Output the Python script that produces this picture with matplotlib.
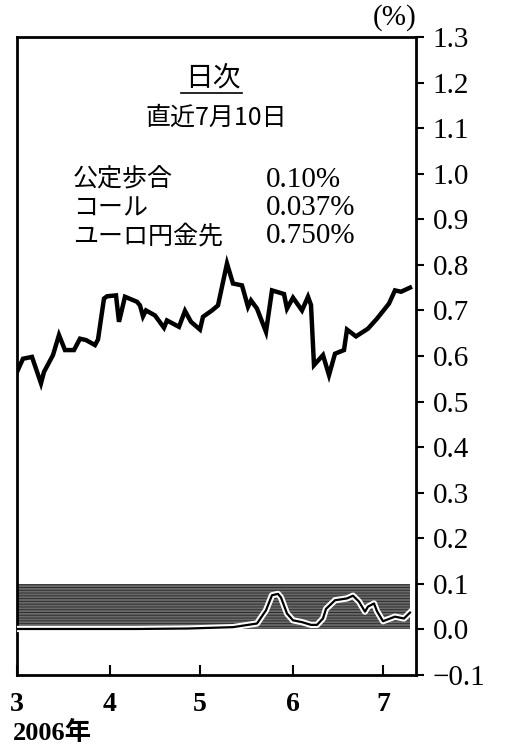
import matplotlib
matplotlib.use("Agg")
import matplotlib.pyplot as plt
import matplotlib.patheffects as pe

# days since 1 March 2006
euroyen_days = [0, 2, 5, 8, 9, 12, 14, 16, 19, 21, 23, 26, 27, 29, 30, 33, 34, 36,
                40, 41, 42, 43, 46, 49, 50, 54, 56, 58, 61, 62, 65, 67, 70, 72, 75,
                77, 78, 80, 83, 85, 89, 90, 92, 95, 97, 98, 99, 102, 104, 106, 109,
                110, 113, 117, 120, 124, 126, 128, 131]
euroyen_vals = [0.565, 0.594, 0.598, 0.540, 0.565, 0.602, 0.646, 0.613, 0.613, 0.638,
                0.635, 0.624, 0.636, 0.726, 0.731, 0.733, 0.675, 0.730, 0.719, 0.711,
                0.687, 0.700, 0.689, 0.662, 0.678, 0.664, 0.699, 0.675, 0.658, 0.686,
                0.700, 0.711, 0.803, 0.759, 0.755, 0.708, 0.722, 0.704, 0.653, 0.744,
                0.736, 0.704, 0.728, 0.700, 0.730, 0.712, 0.580, 0.602, 0.558, 0.605,
                0.613, 0.658, 0.643, 0.660, 0.682, 0.715, 0.744, 0.741, 0.750]

call_days = [0, 20, 40, 57, 72, 80, 83, 85, 87, 88, 90, 92, 95, 98, 100, 102, 103,
             106, 108, 110, 112, 114, 116, 117, 119, 120, 122, 126, 129, 131]
call_vals = [0.001, 0.001, 0.001, 0.002, 0.005, 0.013, 0.042, 0.075, 0.078, 0.070,
             0.035, 0.020, 0.016, 0.010, 0.010, 0.024, 0.045, 0.064, 0.066, 0.068,
             0.074, 0.061, 0.039, 0.050, 0.057, 0.040, 0.018, 0.028, 0.024, 0.037]

band_days = [0, 131]          # policy rate band
band_low, band_high = 0.0, 0.10

month_ticks = [0, 31, 61, 92, 122]
month_labels = ["3", "4", "5", "6", "7"]
y_ticks = [-0.1, 0.0, 0.1, 0.2, 0.3, 0.4, 0.5, 0.6, 0.7, 0.8, 0.9, 1.0, 1.1, 1.2, 1.3]

SERIF = ["Liberation Serif", "Noto Sans CJK JP"]
CJK = ["Noto Sans CJK JP", "Liberation Serif"]

plt.rcParams["hatch.linewidth"] = 0.7

fig = plt.figure(figsize=(5.07, 7.49), dpi=100)
ax = fig.add_axes([0.0335, 0.0988, 0.787, 0.8518])

ax.fill_between(band_days, band_low, band_high, facecolor="#6a6a6a",
                edgecolor="#2e2e2e", hatch="------", linewidth=0, zorder=1)
ax.plot(call_days, call_vals, color="black", lw=1.6, zorder=3,
        path_effects=[pe.Stroke(linewidth=4.5, foreground="white"), pe.Normal()])
ax.plot(euroyen_days, euroyen_vals, color="black", lw=3.2, zorder=4,
        solid_joinstyle="miter")

ax.set_xlim(0, 133)
ax.set_ylim(-0.1, 1.3)

for s in ax.spines.values():
    s.set_linewidth(2.0)

ax.yaxis.tick_right()
ax.set_yticks(y_ticks)
ax.set_yticklabels([f"{v:.1f}".replace("-", "\u2212") for v in y_ticks],
                   fontfamily=SERIF, fontsize=21)
ax.tick_params(axis="y", direction="out", length=6, width=1.5, pad=6)

ax.set_xticks(month_ticks)
ax.set_xticklabels(month_labels, fontfamily=SERIF, fontsize=20, fontweight="bold")
ax.tick_params(axis="x", direction="in", length=7, width=1.5, pad=12)

fig.text(0.822, 0.958, "(%)", fontfamily=SERIF, fontsize=21, ha="right", va="bottom")
fig.text(0.026, 0.005, "2006年", fontfamily=SERIF, fontsize=19, fontweight="bold",
         ha="left", va="bottom")

ax.text(0.49, 0.936, "日次", transform=ax.transAxes, fontfamily=CJK, fontsize=20,
        ha="center", va="center")
ax.plot([0.41, 0.565], [0.912, 0.912], transform=ax.transAxes, color="black", lw=1.2)
ax.text(0.50, 0.874, "直近7月10日", transform=ax.transAxes, fontfamily=CJK,
        fontsize=18, ha="center", va="center")

labels = ["公定歩合", "コール", "ユーロ円金先"]
values = ["0.10%", "0.037%", "0.750%"]
for i, (lab, val) in enumerate(zip(labels, values)):
    y = 0.776 - i * 0.044
    ax.text(0.14, y, lab, transform=ax.transAxes, fontfamily=CJK, fontsize=18,
            ha="left", va="center")
    ax.text(0.625, y, val, transform=ax.transAxes, fontfamily=SERIF, fontsize=21,
            ha="left", va="center")

fig.savefig("out.png", dpi=100)
